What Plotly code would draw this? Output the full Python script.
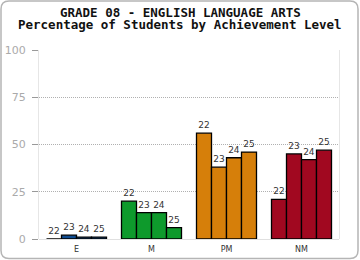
import plotly.graph_objects as go

categories = ["E", "M", "PM", "NM"]
years = ["22", "23", "24", "25"]
values_22 = [0, 20, 56, 21]
values_23 = [2, 14, 38, 45]
values_24 = [1, 14, 43, 42]
values_25 = [1, 6, 46, 47]
cat_colors = ["#0f4c91", "#0e9a2c", "#d67f0a", "#a10820"]
title_lines = ["GRADE 08 - ENGLISH LANGUAGE ARTS", "Percentage of Students by Achievement Level"]

series = [values_22, values_23, values_24, values_25]

W, H = 360, 260
L, R, T, B = 39, 21, 50, 21
pw, ph = W - L - R, H - T - B

fig = go.Figure()
for yr, vals in zip(years, series):
    fig.add_trace(go.Bar(
        x=categories, y=vals, name=yr,
        marker=dict(color=cat_colors, line=dict(color="#000000", width=1.3)),
        text=[yr] * len(vals), textposition="outside",
        textfont=dict(family="DejaVu Sans", size=9, color="#333333"),
        cliponaxis=False, hoverinfo="skip",
    ))

def px(x):
    return (x - L) / pw

def py(y):
    return (H - B - y) / ph

x0, x1, y0, y1, r = 1.0, 358.0, 1.0, 258.5, 8
path = (f"M {px(x0 + r)},{py(y0)} L {px(x1 - r)},{py(y0)} "
        f"Q {px(x1)},{py(y0)} {px(x1)},{py(y0 + r)} "
        f"L {px(x1)},{py(y1 - r)} Q {px(x1)},{py(y1)} {px(x1 - r)},{py(y1)} "
        f"L {px(x0 + r)},{py(y1)} Q {px(x0)},{py(y1)} {px(x0)},{py(y1 - r)} "
        f"L {px(x0)},{py(y0 + r)} Q {px(x0)},{py(y0)} {px(x0 + r)},{py(y0)} Z")

annotations = []
for i, line in enumerate(title_lines):
    annotations.append(dict(
        text=f"<b>{line}</b>", x=px(180), xref="paper", xanchor="center",
        y=py(13 + 12 * i), yref="paper", yanchor="middle", showarrow=False,
        font=dict(family="DejaVu Sans Mono", size=12.5, color="#111111"),
    ))

fig.update_layout(
    width=W, height=H,
    margin=dict(l=L, r=R, t=T, b=B, autoexpand=False),
    paper_bgcolor="#ffffff", plot_bgcolor="#ffffff",
    showlegend=False,
    barmode="group", bargap=0.2, bargroupgap=0,
    annotations=annotations,
    xaxis=dict(
        showgrid=False, showline=False, zeroline=False, ticks="",
        tickfont=dict(family="DejaVu Sans", size=8, color="#333333"),
        ticklabelstandoff=4, fixedrange=True, automargin=False,
    ),
    yaxis=dict(
        range=[0, 100], tickvals=[0, 25, 50, 75, 100], fixedrange=True,
        showgrid=True, gridcolor="#b0b0b0", griddash="1px,1px", gridwidth=1,
        zeroline=True, zerolinecolor="#e0e0e0", zerolinewidth=1,
        showline=True, linecolor="#e6e6e6", linewidth=1, mirror=True,
        ticks="outside", ticklen=6, tickcolor="#999999",
        tickfont=dict(family="DejaVu Sans", size=11, color="#aaaaaa"),
        ticklabelstandoff=4, automargin=False,
    ),
    shapes=[dict(type="path", path=path, xref="paper", yref="paper",
                 line=dict(color="#b5b5b5", width=1.5), fillcolor="rgba(0,0,0,0)",
                 layer="above")],
)

fig.write_html("out.html")
